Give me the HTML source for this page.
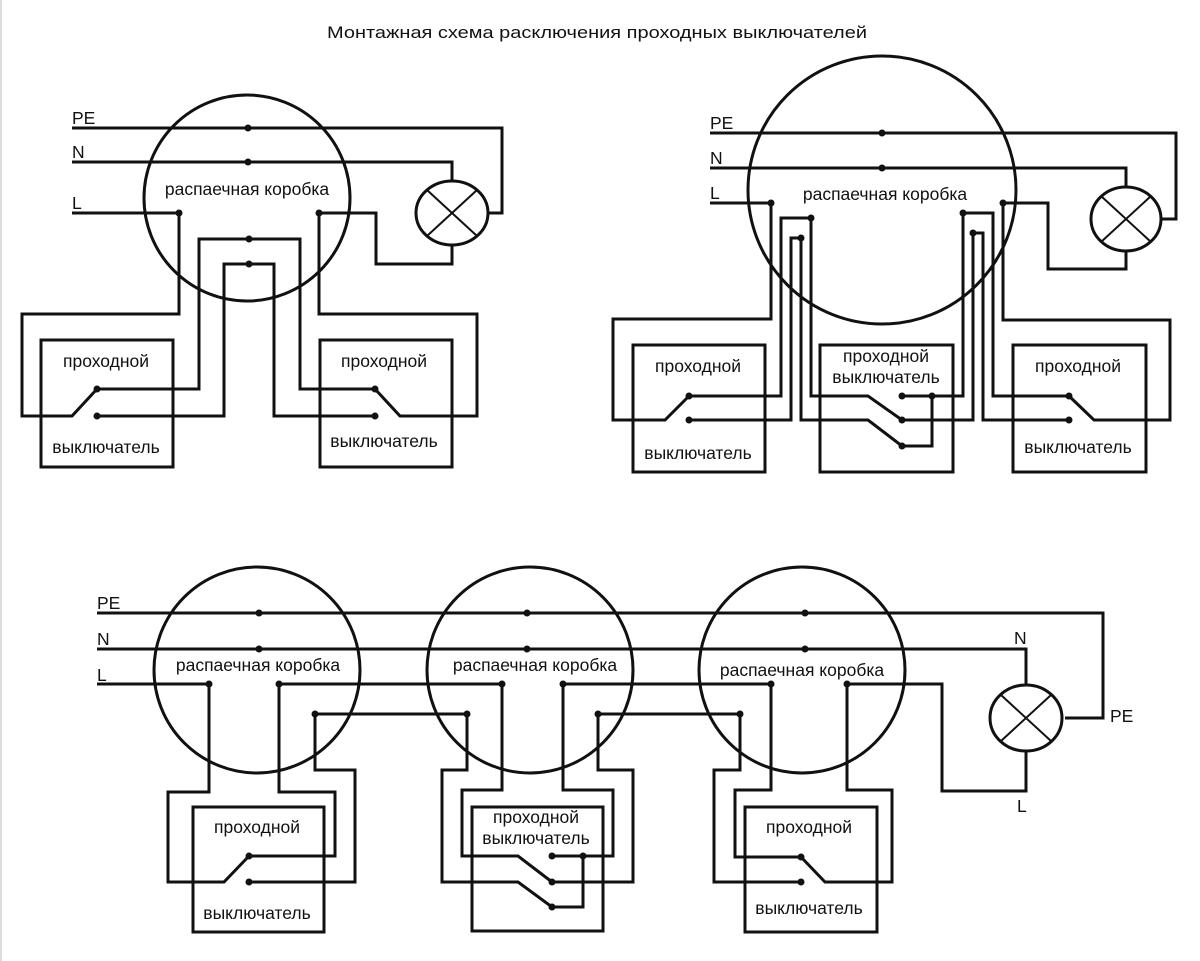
<!DOCTYPE html>
<html><head><meta charset="utf-8"><style>
html,body{margin:0;padding:0;background:#fff;}
svg{display:block;}
text{font-family:"Liberation Sans",Arial,sans-serif;font-size:17.5px;fill:#111;}
</style></head><body>
<svg width="1200" height="961" viewBox="0 0 1200 961" xmlns="http://www.w3.org/2000/svg">
<line x1="1" y1="0" x2="1" y2="961" stroke="#ddd" stroke-width="2"/>
<text x="597" y="38" text-anchor="middle" style="font-size:17px" textLength="540" lengthAdjust="spacingAndGlyphs">Монтажная схема расключения проходных выключателей</text>

<g fill="none" stroke="#111" stroke-width="3" stroke-linejoin="miter">
<circle cx="247" cy="198" r="103"/>
<polyline points="72,128 502,128 502,213 487,213"/>
<polyline points="72,162 452,162 452,181"/>
<ellipse cx="452" cy="213" rx="36" ry="32"/>
<line x1="427" y1="190" x2="477" y2="236" stroke-width="2"/>
<line x1="427" y1="236" x2="477" y2="190" stroke-width="2"/>
<polyline points="452,245 452,264 376,264 376,213 319,213"/>
<polyline points="72,213 179,213 179,314 22,314 22,416 72,416 97,389"/>
<rect x="41" y="340" width="132" height="127"/>
<polyline points="97,389 199,389 199,239 300,239 300,389 375,389"/>
<polyline points="97,416 224,416 224,264 274,264 274,416 375,416"/>
<polyline points="375,389 400,416 477,416 477,314 319,314 319,213"/>
<rect x="320" y="340" width="132" height="127"/>

<circle cx="882" cy="190" r="134"/>
<polyline points="710,133 1176,133 1176,219 1160,219"/>
<polyline points="710,168 1126,168 1126,187"/>
<ellipse cx="1126" cy="219" rx="35" ry="32"/>
<line x1="1101" y1="196" x2="1151" y2="242" stroke-width="2"/>
<line x1="1101" y1="242" x2="1151" y2="196" stroke-width="2"/>
<polyline points="1126,251 1126,269 1048,269 1048,203 1003,203"/>
<polyline points="710,203 771,203 771,319 613,319 613,420 665,420 689,396"/>
<rect x="633" y="345" width="132" height="127"/>
<polyline points="689,396 781,396 781,218 811,218 811,396 868,396 902,420"/>
<polyline points="689,420 791,420 791,238 801,238 801,420 868,420 902,446"/>
<rect x="820" y="345" width="133" height="127"/>
<polyline points="902,396 932,396 932,446 902,446"/>
<polyline points="932,396 963,396 963,213"/>
<polyline points="902,420 973,420 973,233"/>
<polyline points="963,213 993,213 993,396 1069,396"/>
<polyline points="973,233 983,233 983,420 1069,420"/>
<polyline points="1069,396 1094,420 1170,420 1170,320 1003,320 1003,203"/>
<rect x="1013" y="345" width="133" height="127"/>

<circle cx="257" cy="670" r="103"/>
<circle cx="530" cy="670" r="103"/>
<circle cx="802" cy="670" r="103"/>
<polyline points="97,613 1103,613 1103,718 1065,718"/>
<polyline points="97,649 1026,649 1026,685"/>
<ellipse cx="1026" cy="718" rx="36" ry="33"/>
<line x1="1001" y1="695" x2="1051" y2="741" stroke-width="2"/>
<line x1="1001" y1="741" x2="1051" y2="695" stroke-width="2"/>
<polyline points="1026,751 1026,791 942,791 942,684 847,684"/>
<line x1="97" y1="684" x2="209" y2="684"/>
<line x1="279" y1="684" x2="502" y2="684"/>
<line x1="563" y1="684" x2="771" y2="684"/>
<polyline points="209,684 209,792 168,792 168,882 224,882 249,856"/>
<polyline points="279,684 279,792 335,792 335,856 249,856"/>
<polyline points="249,882 355,882 355,770 315,770 315,714 467,714"/>
<rect x="193" y="807" width="131" height="125"/>
<polyline points="467,714 467,770 442,770 442,882 518,882 552,907"/>
<polyline points="502,684 502,790 462,790 462,856 518,856 552,882"/>
<polyline points="552,856 583,856 583,907 552,907"/>
<polyline points="583,856 613,856 613,790 563,790 563,684"/>
<polyline points="552,882 633,882 633,770 598,770 598,714 740,714"/>
<rect x="472" y="807" width="131" height="124"/>
<polyline points="740,714 740,770 714,770 714,882 801,882"/>
<polyline points="771,684 771,790 735,790 735,857 801,857 825,882 892,882 892,790 847,790 847,684"/>
<rect x="745" y="807" width="132" height="125"/>
</g>

<g fill="#111">
<circle cx="248" cy="128" r="3.5"/><circle cx="248" cy="162" r="3.5"/>
<circle cx="179" cy="213" r="3.5"/><circle cx="319" cy="213" r="3.5"/>
<circle cx="249" cy="239" r="3.5"/><circle cx="249" cy="264" r="3.5"/>
<circle cx="97" cy="389" r="3.5"/><circle cx="97" cy="416" r="3.5"/>
<circle cx="375" cy="389" r="3.5"/><circle cx="375" cy="416" r="3.5"/>
<circle cx="882" cy="133" r="3.5"/><circle cx="882" cy="168" r="3.5"/>
<circle cx="771" cy="203" r="3.5"/><circle cx="1003" cy="203" r="3.5"/>
<circle cx="811" cy="218" r="3.5"/><circle cx="801" cy="238" r="3.5"/>
<circle cx="963" cy="213" r="3.5"/><circle cx="973" cy="233" r="3.5"/>
<circle cx="689" cy="396" r="3.5"/><circle cx="689" cy="420" r="3.5"/>
<circle cx="902" cy="396" r="3.5"/><circle cx="902" cy="420" r="3.5"/><circle cx="902" cy="446" r="3.5"/>
<circle cx="932" cy="396" r="3.5"/>
<circle cx="1069" cy="396" r="3.5"/><circle cx="1069" cy="420" r="3.5"/>
<circle cx="259" cy="613" r="3.5"/><circle cx="527" cy="613" r="3.5"/><circle cx="805" cy="613" r="3.5"/>
<circle cx="259" cy="649" r="3.5"/><circle cx="527" cy="649" r="3.5"/><circle cx="805" cy="649" r="3.5"/>
<circle cx="209" cy="684" r="3.5"/><circle cx="279" cy="684" r="3.5"/>
<circle cx="502" cy="684" r="3.5"/><circle cx="563" cy="684" r="3.5"/>
<circle cx="771" cy="684" r="3.5"/><circle cx="847" cy="684" r="3.5"/>
<circle cx="315" cy="714" r="3.5"/><circle cx="467" cy="714" r="3.5"/>
<circle cx="598" cy="714" r="3.5"/><circle cx="740" cy="714" r="3.5"/>
<circle cx="249" cy="856" r="3.5"/><circle cx="249" cy="882" r="3.5"/>
<circle cx="552" cy="856" r="3.5"/><circle cx="552" cy="882" r="3.5"/><circle cx="552" cy="907" r="3.5"/>
<circle cx="583" cy="856" r="3.5"/>
<circle cx="801" cy="857" r="3.5"/><circle cx="801" cy="882" r="3.5"/>
</g>

<text x="72" y="124">PE</text><text x="72" y="158">N</text><text x="72" y="209">L</text>
<text x="247" y="195" text-anchor="middle">распаечная коробка</text>
<text x="106" y="367" text-anchor="middle">проходной</text>
<text x="106" y="453" text-anchor="middle">выключатель</text>
<text x="384" y="367" text-anchor="middle">проходной</text>
<text x="384" y="447" text-anchor="middle">выключатель</text>

<text x="710" y="129">PE</text><text x="710" y="164">N</text><text x="710" y="199">L</text>
<text x="885" y="200" text-anchor="middle">распаечная коробка</text>
<text x="698" y="372" text-anchor="middle">проходной</text>
<text x="698" y="459" text-anchor="middle">выключатель</text>
<text x="886" y="362" text-anchor="middle">проходной</text>
<text x="886" y="383" text-anchor="middle">выключатель</text>
<text x="1078" y="372" text-anchor="middle">проходной</text>
<text x="1078" y="453" text-anchor="middle">выключатель</text>

<text x="97" y="609">PE</text><text x="97" y="645">N</text><text x="97" y="681">L</text>
<text x="258" y="671" text-anchor="middle">распаечная коробка</text>
<text x="535" y="671" text-anchor="middle">распаечная коробка</text>
<text x="802" y="676" text-anchor="middle">распаечная коробка</text>
<text x="257" y="833" text-anchor="middle">проходной</text>
<text x="257" y="919" text-anchor="middle">выключатель</text>
<text x="536" y="823" text-anchor="middle">проходной</text>
<text x="536" y="844" text-anchor="middle">выключатель</text>
<text x="809" y="833" text-anchor="middle">проходной</text>
<text x="809" y="914" text-anchor="middle">выключатель</text>
<text x="1014" y="644">N</text>
<text x="1110" y="722">PE</text>
<text x="1017" y="812">L</text>
</svg>
</body></html>
